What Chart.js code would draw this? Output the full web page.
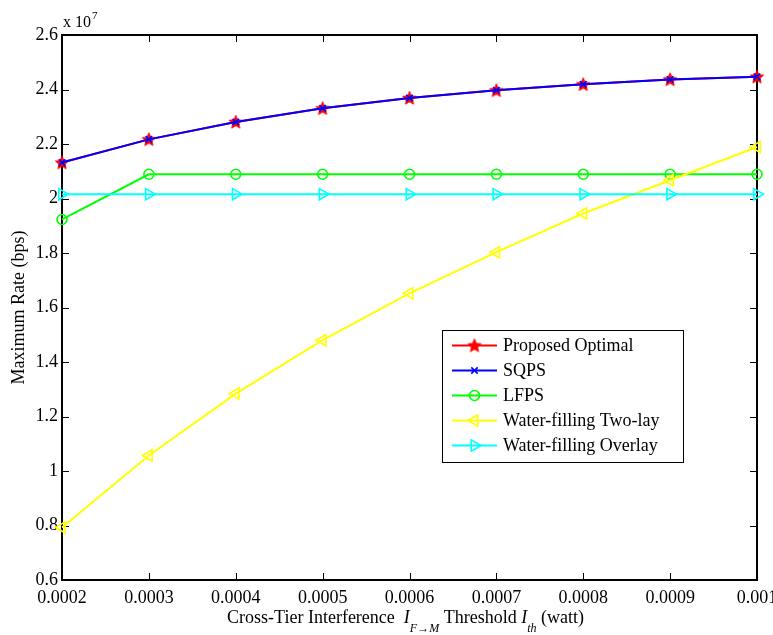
<!DOCTYPE html>
<html>
<head>
<meta charset="utf-8">
<script src="https://cdn.jsdelivr.net/npm/chart.js@4"></script>
<style>
  html, body { margin: 0; padding: 0; background: #ffffff; }
  #wrap { width: 773px; height: 635px; }
</style>
</head>
<body>
<div id="wrap"><canvas id="c" width="773" height="635"></canvas></div>
<script>
// Interference threshold I_th (watt), x-axis categories
const thresholds = ['0.0002', '0.0003', '0.0004', '0.0005', '0.0006', '0.0007', '0.0008', '0.0009', '0.001'];

// Maximum rate in units of 10^7 bps
const proposedOptimal = [2.132, 2.217, 2.281, 2.331, 2.369, 2.397, 2.419, 2.437, 2.447];
const sqps            = [2.132, 2.217, 2.281, 2.331, 2.369, 2.397, 2.419, 2.437, 2.447];
const lfps            = [1.923, 2.089, 2.089, 2.089, 2.089, 2.089, 2.089, 2.089, 2.089];
const waterTwoLay     = [0.793, 1.057, 1.284, 1.480, 1.652, 1.803, 1.945, 2.067, 2.189];
const waterOverlay    = [2.016, 2.016, 2.016, 2.016, 2.016, 2.016, 2.016, 2.016, 2.016];

const seriesNames = ['Proposed Optimal', 'SQPS', 'LFPS', 'Water-filling Two-lay', 'Water-filling Overlay'];

// y axis range and step (x 10^7)
const yMin = 0.6, yMax = 2.6, yStep = 0.2;

const SERIF = '"Liberation Serif", "Times New Roman", serif';

// Five-pointed star marker
function makeStar(color, R) {
  const size = Math.ceil(2 * R + 4);
  const cv = document.createElement('canvas');
  cv.width = size; cv.height = size;
  const g = cv.getContext('2d');
  const cx = size / 2, cy = size / 2 + 0.5, r = R * 0.45;
  g.beginPath();
  for (let i = 0; i < 10; i++) {
    const a = -Math.PI / 2 + i * Math.PI / 5;
    const rr = i % 2 === 0 ? R : r;
    const px = cx + rr * Math.cos(a), py = cy + rr * Math.sin(a);
    if (i === 0) g.moveTo(px, py); else g.lineTo(px, py);
  }
  g.closePath();
  g.fillStyle = color;
  g.fill();
  g.strokeStyle = color;
  g.lineWidth = 1;
  g.stroke();
  return cv;
}
const redStar = makeStar('#ff0000', 7);

function series(label, data, color, style, radius, rotation, order) {
  return {
    label, data, order,
    borderColor: color,
    backgroundColor: 'rgba(0,0,0,0)',
    borderWidth: 2,
    pointStyle: style,
    pointRadius: radius,
    pointRotation: rotation,
    pointBorderColor: color,
    pointBackgroundColor: 'rgba(0,0,0,0)',
    pointBorderWidth: 1.6,
    tension: 0,
    clip: false
  };
}

const datasets = [
  series(seriesNames[0], proposedOptimal, '#ff0000', redStar, 7, 0, 5),
  series(seriesNames[1], sqps, '#0000ff', 'crossRot', 4.5, 0, 4),
  series(seriesNames[2], lfps, '#00ff00', 'circle', 5, 0, 3),
  series(seriesNames[3], waterTwoLay, '#ffff00', 'triangle', 6.5, -90, 2),
  series(seriesNames[4], waterOverlay, '#00ffff', 'triangle', 6.5, 90, 1)
];

// Axes box with inward ticks on all four sides, plus the exponent note
const framePlugin = {
  id: 'frame',
  beforeDatasetsDraw(chart) {
    const { ctx, chartArea: a, scales } = chart;
    ctx.save();
    ctx.strokeStyle = '#000';
    ctx.lineWidth = 1;
    const tl = 7;
    ctx.beginPath();
    scales.x.ticks.forEach((t, i) => {
      const px = Math.round(scales.x.getPixelForTick(i)) + 0.5;
      ctx.moveTo(px, a.bottom); ctx.lineTo(px, a.bottom - tl);
      ctx.moveTo(px, a.top); ctx.lineTo(px, a.top + tl);
    });
    scales.y.ticks.forEach(t => {
      const py = Math.round(scales.y.getPixelForValue(t.value)) + 0.5;
      ctx.moveTo(a.left, py); ctx.lineTo(a.left + tl, py);
      ctx.moveTo(a.right, py); ctx.lineTo(a.right - tl, py);
    });
    ctx.stroke();
    ctx.lineWidth = 2;
    ctx.strokeRect(a.left, a.top, a.right - a.left, a.bottom - a.top);

    // "x 10^7" multiplier above the y axis
    ctx.fillStyle = '#000';
    ctx.textBaseline = 'alphabetic';
    ctx.textAlign = 'left';
    ctx.font = '16px ' + SERIF;
    ctx.fillText('x 10', a.left + 1, a.top - 8);
    const w = ctx.measureText('x 10').width;
    ctx.font = '11px ' + SERIF;
    ctx.fillText('7', a.left + 1 + w + 1, a.top - 16);
    ctx.restore();
  },
  afterDraw(chart) {
    const { ctx, chartArea: a } = chart;
    ctx.save();
    // x-axis title with italic symbols and subscripts
    const parts = [
      { t: 'Cross-Tier Interference  ', f: '18px ' + SERIF, dy: 0 },
      { t: 'I', f: 'italic 18px ' + SERIF, dy: 0 },
      { t: 'F\u2192M', f: 'italic 12px ' + SERIF, dy: 9 },
      { t: ' Threshold ', f: '18px ' + SERIF, dy: 0 },
      { t: 'I', f: 'italic 18px ' + SERIF, dy: 0 },
      { t: 'th', f: 'italic 12px ' + SERIF, dy: 9 },
      { t: ' (watt)', f: '18px ' + SERIF, dy: 0 }
    ];
    let total = 0;
    parts.forEach(p => { ctx.font = p.f; p.w = ctx.measureText(p.t).width; total += p.w; });
    let x = (a.left + a.right) / 2 - total / 2 - 4;
    const base = 623;
    ctx.fillStyle = '#000';
    ctx.textBaseline = 'alphabetic';
    ctx.textAlign = 'left';
    parts.forEach(p => { ctx.font = p.f; ctx.fillText(p.t, x, base + p.dy); x += p.w; });

    // Legend box inside the plot
    const lx = 442, ly = 330, lw = 241, lh = 132;
    ctx.fillStyle = '#fff';
    ctx.fillRect(lx, ly, lw, lh);
    ctx.strokeStyle = '#000';
    ctx.lineWidth = 1;
    ctx.strokeRect(lx + 0.5, ly + 0.5, lw, lh);
    const rowY = [345.5, 370.5, 395.5, 420.5, 445.5];
    chart.data.datasets.forEach((ds, i) => {
      const y = rowY[i];
      ctx.strokeStyle = ds.borderColor;
      ctx.lineWidth = 2;
      ctx.beginPath();
      ctx.moveTo(452, y); ctx.lineTo(497, y);
      ctx.stroke();
      ctx.fillStyle = 'rgba(0,0,0,0)';
      ctx.lineWidth = ds.pointBorderWidth;
      ctx.strokeStyle = ds.pointBorderColor;
      Chart.helpers.drawPoint(ctx, {
        pointStyle: ds.pointStyle,
        rotation: ds.pointRotation,
        radius: ds.pointRadius,
        borderWidth: ds.pointBorderWidth
      }, 474.5, y);
      ctx.fillStyle = '#000';
      ctx.font = '18px ' + SERIF;
      ctx.textBaseline = 'middle';
      ctx.fillText(ds.label, 503, y + 1);
    });
    ctx.restore();
  }
};

new Chart(document.getElementById('c'), {
  type: 'line',
  data: { labels: thresholds, datasets },
  options: {
    responsive: false,
    animation: false,
    devicePixelRatio: 1,
    layout: { padding: { left: 0, right: 16, top: 35, bottom: 0 } },
    plugins: { legend: { display: false }, tooltip: { enabled: false } },
    scales: {
      x: {
        type: 'category',
        offset: false,
        grid: { display: false, drawTicks: false },
        border: { display: false },
        ticks: {
          color: '#000',
          font: { family: SERIF, size: 18 },
          padding: 7,
          maxRotation: 0,
          autoSkip: false
        },
        afterFit(s) { s.height = 55; s.paddingLeft = 0; s.paddingRight = 0; }
      },
      y: {
        min: yMin,
        max: yMax,
        grid: { display: false, drawTicks: false },
        border: { display: false },
        ticks: {
          stepSize: yStep,
          color: '#000',
          font: { family: SERIF, size: 18 },
          padding: 4,
          callback: v => String(Math.round(v * 10) / 10)
        },
        title: {
          display: true,
          text: 'Maximum Rate (bps)',
          color: '#000',
          font: { family: SERIF, size: 18 },
          padding: { top: 8, bottom: 0 }
        },
        afterFit(s) { s.width = 62; s.paddingTop = 0; s.paddingBottom = 0; }
      }
    }
  },
  plugins: [framePlugin]
});
</script>
</body>
</html>
